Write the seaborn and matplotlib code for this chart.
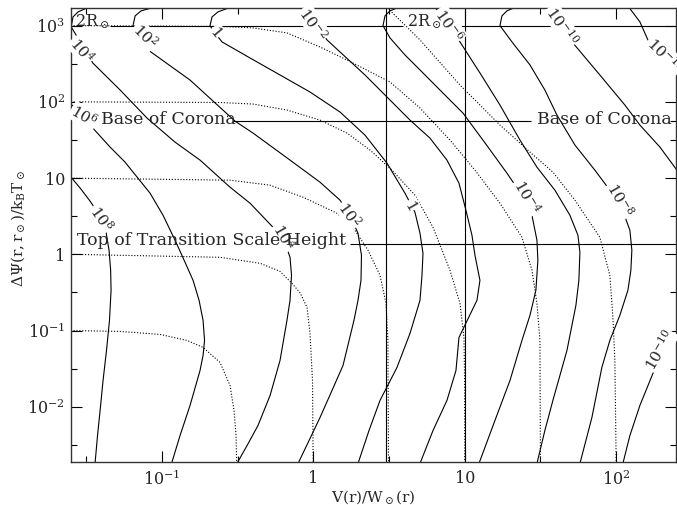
import matplotlib
matplotlib.use("Agg")
import matplotlib.pyplot as plt
import numpy as np
import pandas as pd
import seaborn as sns
from matplotlib.ticker import FixedLocator, FixedFormatter, NullFormatter

sns.set_theme(style="ticks")
plt.rcParams["font.family"] = ["DejaVu Serif"]
plt.rcParams["mathtext.fontset"] = "dejavuserif"

# ---------------- solid contours ----------------
c8_x = [0.022, 0.025, 0.0289, 0.0336, 0.0391, 0.0428, 0.0448, 0.0459, 0.0462, 0.0451, 0.0431, 0.0409, 0.0391, 0.0376, 0.0362]
c8_y = [12.5, 10.4, 7.37, 4.97, 3.16, 1.95, 1.13, 0.616, 0.337, 0.136, 0.0548, 0.0221, 0.0089, 0.00418, 0.0018]

c6_x = [0.022, 0.025, 0.0289, 0.0350, 0.0455, 0.0571, 0.0686, 0.0836, 0.1018, 0.1222, 0.1423, 0.1607, 0.1761, 0.1871, 0.1914, 0.1871, 0.1787, 0.1535, 0.1318, 0.1159]
c6_y = [110, 93.5, 73.5, 45.3, 25.5, 16.2, 10.3, 6.33, 3.25, 1.53, 0.785, 0.455, 0.249, 0.136, 0.0741, 0.0471, 0.0299, 0.0104, 0.00418, 0.0018]

c4_x = [0.0362, 0.0316, 0.0280, 0.0259, 0.0252, 0.0297, 0.0350, 0.0530, 0.0798, 0.1222, 0.1787, 0.2819, 0.3821, 0.542, 0.651, 0.702, 0.718, 0.702, 0.670, 0.603, 0.518, 0.431, 0.365, 0.313]
c4_y = [1815, 1683, 1514, 1301, 961, 557, 323, 143, 61.2, 29.6, 17.2, 7.59, 4.68, 2.26, 1.395, 0.913, 0.530, 0.249, 0.136, 0.0405, 0.0140, 0.00566, 0.00309, 0.0018]

c2_x = [0.1003, 0.0836, 0.0729, 0.0666, 0.0645, 0.0718, 0.0811, 0.1535, 0.304, 0.400, 0.702, 1.107, 1.501, 1.747, 1.973, 2.080, 2.065, 1.973, 1.856, 1.571, 1.328, 1.107, 0.937, 0.793]
c2_y = [1815, 1683, 1560, 1341, 1000, 755, 479, 193, 55.9, 38.9, 17.2, 8.83, 5.13, 3.25, 1.888, 0.970, 0.455, 0.249, 0.136, 0.0348, 0.0163, 0.00721, 0.0036, 0.0018]

c0_x = [0.3184, 0.2653, 0.2349, 0.2145, 0.2080, 0.2211, 0.2496, 0.3821, 0.603, 0.951, 1.501, 2.194, 3.065, 4.03, 4.69, 5.064, 5.30, 5.22, 5.064, 4.349, 3.567, 2.757, 2.332, 1.973]
c0_y = [1815, 1657, 1514, 1301, 1000, 826, 611, 376, 225, 134.5, 73.5, 36.6, 15.7, 6.33, 3.56, 1.888, 1.03, 0.530, 0.249, 0.0916, 0.0327, 0.0121, 0.00487, 0.0018]

cm2_x = [0.780, 0.951, 1.107, 1.231, 1.501, 2.194, 2.974, 4.349, 5.895, 7.63, 9.16, 10.18, 11.16, 11.68, 12.60, 12.04, 9.16, 8.75, 7.63, 6.17, 5.064]
cm2_y = [1871, 1262, 878, 649, 451, 225, 122.8, 57.6, 33.4, 17.2, 8.57, 3.79, 1.777, 0.970, 0.455, 0.249, 0.0811, 0.0299, 0.0121, 0.00487, 0.0018]

cm4_x = [4.03, 3.515, 3.209, 2.974, 2.886, 3.209, 4.03, 5.064, 7.40, 9.73, 13.49, 18.99, 23.86, 27.77, 29.97, 30.4, 29.5, 26.95, 23.86, 19.89, 15.82, 12.41]
cm4_y = [1815, 1683, 1560, 1341, 1000, 689, 412, 262, 122.8, 71.3, 29.6, 11.6, 5.96, 3.25, 1.53, 0.834, 0.337, 0.158, 0.0741, 0.0221, 0.00659, 0.0018]

cm6_x = [6.17, 7.63, 9.30, 12.60, 17.08, 23.15, 29.97, 39.4, 49.5, 55.9, 57.6, 56.7, 54.2, 47.3, 38.2, 33.8, 29.97]
cm6_y = [1871, 1119, 611, 239, 90.8, 31.5, 13.9, 6.93, 3.25, 1.777, 1.062, 0.455, 0.214, 0.0548, 0.0121, 0.00487, 0.0018]

cm8_x = [23.86, 20.8, 18.99, 17.6, 17.08, 20.5, 26.95, 33.8, 40.6, 53.4, 72.3, 90.8, 109.0, 123.1, 126.9, 125.0, 119.5, 105.7, 90.8, 80.4, 69.1, 57.6]
cm8_y = [1815, 1683, 1560, 1341, 1000, 611, 305, 143, 67.1, 27.1, 12.7, 6.93, 4.02, 2.07, 1.13, 0.616, 0.337, 0.158, 0.0741, 0.0327, 0.00721, 0.0018]

cm10_x = [33.8, 42.5, 51.8, 78.0, 114.1, 143.4, 194.4, 251.6, 356.8, 384.6, 306.0, 250.5, 209.7, 174.7, 143.4, 123.1, 110.7]
cm10_y = [1871, 1021, 592, 225, 90.8, 49.6, 25.5, 12.7, 3.79, 0.834, 0.184, 0.0862, 0.0515, 0.0273, 0.0104, 0.00418, 0.0018]

cm12_x = [114.1, 143.4, 161.9, 200.3, 250.5, 306.6]
cm12_y = [2047, 1119, 649, 412, 246, 166]

# ---------------- dotted curves ----------------
d01_x = [0.025, 0.0530, 0.0973, 0.1466, 0.1871, 0.2422, 0.2819, 0.2997, 0.309, 0.312]
d01_y = [0.100, 0.0973, 0.0889, 0.0741, 0.060, 0.0381, 0.0190, 0.0089, 0.00418, 0.0018]

d1_x = [0.025, 0.2422, 0.4449, 0.60, 0.723, 0.82, 0.909, 0.951, 0.988, 0.998]
d1_y = [1.0, 0.913, 0.762, 0.60, 0.416, 0.31, 0.201, 0.0916, 0.0221, 0.0018]

d10_x = [0.025, 0.2819, 0.518, 0.855, 1.434, 1.828, 2.297, 2.757, 3.02, 3.11, 3.137]
d10_y = [9.97, 9.38, 8.07, 5.61, 3.46, 2.26, 1.13, 0.530, 0.227, 0.0741, 0.0018]

d100_x = [0.025, 0.2422, 0.400, 0.670, 1.107, 1.669, 2.368, 3.308, 4.69, 6.17, 7.99, 9.30, 9.88, 9.98, 10.0]
d100_y = [100, 98, 93.5, 78, 57.6, 38.9, 23.3, 12.7, 5.96, 2.26, 0.616, 0.227, 0.0811, 0.0221, 0.0018]

d1000_x = [0.025, 0.2422, 0.400, 0.670, 1.107, 1.828, 3.209, 5.064, 7.99, 11.68, 17.08, 23.86, 27.8, 29.97, 31.37, 31.6]
d1000_y = [1000, 976, 933, 802, 525, 323, 182, 82.9, 31.5, 12.7, 4.68, 1.673, 0.616, 0.227, 0.0741, 0.0018]

d1e4_x = [3.0, 5.064, 9.30, 17.08, 26.95, 38.2, 53.4, 78.0, 90.8, 95.1, 98.0, 100.0]
d1e4_y = [1800, 649, 166, 49.6, 21.9, 11.96, 5.13, 1.673, 0.530, 0.149, 0.0405, 0.0018]

# ---------------- contour labels ----------------
lab_text = [r"$10^{4}$", r"$10^{2}$", r"$1$", r"$10^{-2}$", r"$10^{-6}$", r"$10^{-10}$", r"$10^{-12}$",
            r"$10^{6}$", r"$10^{8}$", r"$10^{4}$", r"$10^{2}$", r"$1$", r"$10^{-4}$", r"$10^{-8}$", r"$10^{-10}$"]
lab_x = [0.0297, 0.0775, 0.2285, 1.0, 7.87, 43.9, 209.7,
         0.0306, 0.0398, 0.642, 1.747, 4.42, 25.7, 105.7, 194.4]
lab_y = [479, 732, 826, 1052, 1021, 996, 412,
         65.1, 2.97, 1.673, 3.36, 4.40, 5.61, 5.13, 0.0548]
lab_rot = [-50, -45, -50, -55, -55, -55, -45,
           -30, -55, -60, -55, -60, -60, -60, 60]

# ---------------- reference heights / speeds ----------------
two_rsun_y = 1000
two_rsun_segs = [(0.0455, 3.91), (6.65, 250)]
base_corona_y = 56.5
base_corona_segs = [(0.295, 27.35), (226.3, 250)]
top_trans_y = 1.35
top_trans_segs = [(1.75, 250)]
speed_lines_x = [3, 10]

xlim = (0.025, 250)
ylim = (0.0019, 1700)
x_major = [0.1, 1, 10, 100]
x_major_lab = [r"$10^{-1}$", "1", "10", r"$10^{2}$"]
y_major = [0.01, 0.1, 1, 10, 100, 1000]
y_major_lab = [r"$10^{-2}$", r"$10^{-1}$", "1", "10", r"$10^{2}$", r"$10^{3}$"]
x_minor = [10 ** -1.5, 10 ** -0.5, 10 ** 0.5, 10 ** 1.5]
y_minor = [10 ** -2.5, 10 ** -1.5, 10 ** -0.5, 10 ** 0.5, 10 ** 1.5, 10 ** 2.5]

solid = {"c8": (c8_x, c8_y), "c6": (c6_x, c6_y), "c4": (c4_x, c4_y), "c2": (c2_x, c2_y),
         "c0": (c0_x, c0_y), "cm2": (cm2_x, cm2_y), "cm4": (cm4_x, cm4_y), "cm6": (cm6_x, cm6_y),
         "cm8": (cm8_x, cm8_y), "cm10": (cm10_x, cm10_y), "cm12": (cm12_x, cm12_y)}
dotted = {"d01": (d01_x, d01_y), "d1": (d1_x, d1_y), "d10": (d10_x, d10_y),
          "d100": (d100_x, d100_y), "d1000": (d1000_x, d1000_y), "d1e4": (d1e4_x, d1e4_y)}

def to_df(curves):
    return pd.concat([pd.DataFrame({"x": xs, "y": ys, "curve": k}) for k, (xs, ys) in curves.items()],
                     ignore_index=True)

df_solid = to_df(solid)
df_dot = to_df(dotted)

fig = plt.figure(figsize=(6.77, 5.05), dpi=100)
ax = fig.add_axes([0.1044, 0.0857, 0.8948, 0.8984])
ax.set_xscale("log")
ax.set_yscale("log")

sns.lineplot(data=df_solid, x="x", y="y", units="curve", estimator=None, sort=False,
             color="black", lw=0.8, ax=ax, legend=False)
sns.lineplot(data=df_dot, x="x", y="y", units="curve", estimator=None, sort=False,
             color="black", lw=0.8, linestyle=(0, (1, 1.6)), ax=ax, legend=False)

for yv, segs in [(two_rsun_y, two_rsun_segs), (base_corona_y, base_corona_segs), (top_trans_y, top_trans_segs)]:
    for x0, x1 in segs:
        ax.hlines(yv, x0, x1, color="black", lw=0.8)
ax.vlines(speed_lines_x, ylim[0], ylim[1], color="black", lw=0.8)

box = dict(facecolor="white", edgecolor="none", pad=0.6)
for t, x, y, r in zip(lab_text, lab_x, lab_y, lab_rot):
    ax.text(x, y, t, rotation=r, ha="center", va="center", fontsize=11,
            rotation_mode="anchor", bbox=box, zorder=5)

ax.text(0.0265, 1120, r"$\mathrm{2R_\odot}$", fontsize=11.5, ha="left", va="center", zorder=5)
ax.text(4.15, 1120, r"$\mathrm{2R_\odot}$", fontsize=11.5, ha="left", va="center", zorder=5)
ax.text(0.0398, 58, "Base of Corona", fontsize=12.5, ha="left", va="center", zorder=5)
ax.text(29.9, 58, "Base of Corona", fontsize=12.5, ha="left", va="center", zorder=5)
ax.text(0.02756, 1.5, "Top of Transition Scale Height", fontsize=12.5, ha="left", va="center", zorder=5)

ax.set_xlim(*xlim)
ax.set_ylim(*ylim)
ax.xaxis.set_major_locator(FixedLocator(x_major))
ax.xaxis.set_major_formatter(FixedFormatter(x_major_lab))
ax.yaxis.set_major_locator(FixedLocator(y_major))
ax.yaxis.set_major_formatter(FixedFormatter(y_major_lab))
ax.xaxis.set_minor_locator(FixedLocator(x_minor))
ax.yaxis.set_minor_locator(FixedLocator(y_minor))
ax.xaxis.set_minor_formatter(NullFormatter())
ax.yaxis.set_minor_formatter(NullFormatter())
ax.tick_params(which="both", direction="in", top=True, right=True, color="black", width=0.8,
               labelsize=11.5)
ax.tick_params(axis="x", which="major", pad=6)
ax.tick_params(axis="y", which="major", pad=4)
ax.tick_params(which="major", length=8)
ax.tick_params(which="minor", length=4)
for s in ax.spines.values():
    s.set_color("#333333")
    s.set_linewidth(1.0)

ax.set_xlabel(r"$\mathrm{V(r)/W_\odot(r)}$", fontsize=11)
ax.set_ylabel(r"$\Delta\Psi(\mathrm{r,r_\odot})/\mathrm{k_BT_\odot}$", fontsize=11)
ax.xaxis.set_label_coords(0.5, -0.058)
ax.yaxis.set_label_coords(-0.072, 0.515)

fig.savefig("out.png", dpi=100)
